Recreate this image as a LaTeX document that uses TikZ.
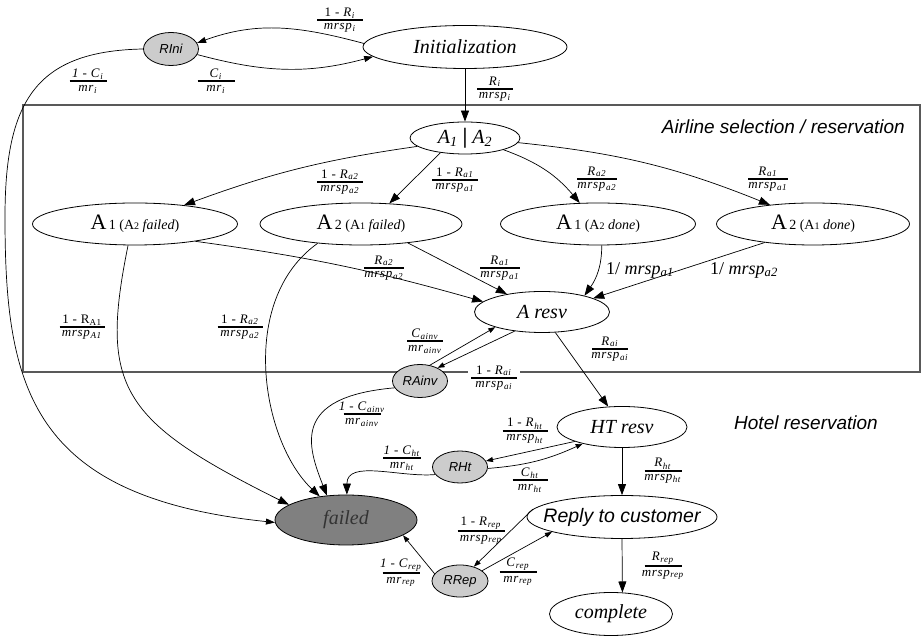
\documentclass[tikz,border=0pt]{standalone}
\usepackage{fontspec}
\setmainfont{Liberation Serif}
\setsansfont{Liberation Sans}
\newfontfamily\labfont[LetterSpace=5]{Liberation Serif}
\usetikzlibrary{arrows.meta,shapes.geometric}

\newcommand\lsb[1]{\textsubscript{\textit{#1}}}
\newcommand\frlab[3][38pt]{\vbox{\hbox to #1{\hss#2\hss}\kern1pt\hrule height 2pt\kern2.5pt\hbox to #1{\hss#3\hss}}}
\newcommand\anodetxt[3]{{\normalfont\fontsize{22}{22}\selectfont A}{\normalfont\fontsize{14}{14}\selectfont\,#1 (A{\fontsize{10}{10}\selectfont #2} \textit{#3})}}

\begin{document}
\begin{tikzpicture}[x=1pt,y=1pt,
  every node/.style={inner sep=0pt},
  st/.style={draw, ellipse, line width=0.8pt, font=\fontsize{20}{20}\selectfont\itshape},
  rn/.style={draw, ellipse, fill=black!20, line width=0.8pt, minimum width=55pt, minimum height=33pt, font=\sffamily\itshape\fontsize{13}{13}\selectfont},
  lab/.style={font=\labfont\fontsize{13}{14}\selectfont},
  bigl/.style={font=\fontsize{18}{18}\selectfont},
  sect/.style={font=\sffamily\itshape\fontsize{19}{19}\selectfont},
  barr/.style={-{Triangle[length=11pt,width=8pt]}, line width=0.7pt},
  marr/.style={-{Triangle[length=9pt,width=6pt]}, line width=0.7pt},
  sarr/.style={-{Triangle[length=7pt,width=5pt]}, line width=0.7pt}
]
\useasboundingbox (0,0) rectangle (924,637);

% section box
\draw[line width=1.3pt, black!65] (23,265) rectangle (920,532);
\node[sect, anchor=east] (alab) at (905,510) {Airline selection / reservation};
\node[sect] (hlab) at (806,214) {Hotel reservation};

% nodes
\node[rn] (rini) at (171,588) {RIni};
\node[st, minimum width=204pt, minimum height=43pt] (init) at (465,590) {Initialization};
\node[st, minimum width=110pt, minimum height=32pt] (a12) at (465,499) {A\textsubscript{1} {\upshape\bfseries\fontsize{22}{22}\selectfont |} A\textsubscript{2}};
\node[st, minimum width=205pt, minimum height=42pt] (a1f) at (135,413) {\anodetxt{1}{2}{failed}};
\node[st, minimum width=202pt, minimum height=42pt] (a2f) at (361,413) {\anodetxt{2}{1}{failed}};
\node[st, minimum width=195pt, minimum height=42pt] (a1d) at (598,413) {\anodetxt{1}{2}{done}};
\node[st, minimum width=193pt, minimum height=42pt] (a2d) at (813,413) {\anodetxt{2}{1}{done}};
\node[st, minimum width=135pt, minimum height=41pt] (aresv) at (542,325) {A resv};
\node[rn] (rainv) at (420,256) {RAinv};
\node[st, minimum width=130pt, minimum height=41pt] (ht) at (622,210) {HT resv};
\node[rn, minimum height=32pt] (rht) at (460,170) {RHt};
\node[st, fill=black!50, text=black!80, minimum width=142pt, minimum height=50pt] (failed) at (346,117) {failed};
\node[st, minimum width=190pt, minimum height=43pt, inner xsep=-13pt, font=\sffamily\itshape\fontsize{19.5}{19.5}\selectfont] (reply) at (622,120) {Reply to customer};
\node[rn, minimum width=56pt, minimum height=32pt] (rrep) at (460,56) {RRep};
\node[st, minimum width=123pt, minimum height=43pt] (complete) at (611,23) {complete};

% edges
\draw[marr] (init.178) to[out=165,in=20] (rini.13);
\draw[marr] (rini.-12) to[out=-15,in=195] (init.186);
\draw[barr] (init.south) -- (a12.north);
\draw[marr] (rini.west) .. controls (35,586) and (5,535) .. (5,420) .. controls (5,250) and (30,140) .. (failed.182);

\draw[barr] (a12.190) to[bend right=6] (a1f.21);
\draw[barr] (a12.211) -- (a2f.36);
\draw[barr] (a12.-17) to[bend left=15] (a1d.131);
\draw[barr] (a12.-5) to[bend left=8] (a2d.156);

\draw[barr] (a1f.-16) to[bend left=4] (aresv.170);
\draw[barr] (a2f.-22) -- (aresv.153);
\draw[barr] (a1d.-80) to[out=-90,in=55] (aresv.21);
\draw[barr] (a2d.201) -- (aresv.15);

\draw[barr] (a1f.252) .. controls (99,249) and (121,216) .. (failed.165);
\draw[barr] (a2f.204) .. controls (237,336) and (262,195) .. (failed.138);

\draw[sarr] (aresv.215) -- (rainv.37);
\draw[sarr] (rainv.58) -- (aresv.198);
\draw[barr] (rainv.195) .. controls (290,240) and (308,190) .. (failed.128);

\draw[barr] (aresv.-57) -- (ht.124);
\draw[sarr] (ht.197) -- (rht.13);
\draw[sarr] (rht.-3) to[bend right=10] (ht.203);
\draw[barr] (rht.197) to[out=185,in=90] (failed.88);

\draw[barr] (ht.south) -- (reply.north);
\draw[sarr] (reply.175) -- (rrep.46);
\draw[sarr] (rrep.25) -- (reply.192);
\draw[sarr] (rrep.164) -- (failed.-15);
\draw[barr] (reply.south) -- (complete.62.5);

% labels
\node[lab] (l1) at (340,617) {\frlab[46pt]{1 - \textit{R}\lsb{i}}{\textit{mrsp}\lsb{i}}};
\node[lab] (l2) at (216,556) {\frlab[37pt]{\textit{C}\lsb{i}}{\textit{mr}\lsb{i}}};
\node[lab] (l3) at (495,548) {\frlab[36pt]{\textit{R}\lsb{i}}{\textit{mrsp}\lsb{i}}};
\node[lab] (l4) at (88,556) {\frlab[37pt]{\textit{1 - C}\lsb{i}}{\textit{mr}\lsb{i}}};
\node[lab] (l5) at (340,455) {\frlab[46pt]{1 - \textit{R}\lsb{a2}}{\textit{mrsp}\lsb{a2}}};
\node[lab] (l6) at (455,457) {\frlab[46pt]{1 - \textit{R}\lsb{a1}}{\textit{mrsp}\lsb{a1}}};
\node[lab] (l7) at (597,458) {\frlab[40pt]{\textit{R}\lsb{a2}}{\textit{mrsp}\lsb{a2}}};
\node[lab] (l8) at (768,458) {\frlab[40pt]{\textit{R}\lsb{a1}}{\textit{mrsp}\lsb{a1}}};
\node[lab] (l9) at (384,369) {\frlab[40pt]{\textit{R}\lsb{a2}}{\textit{mrsp}\lsb{a2}}};
\node[lab] (l10) at (500,369) {\frlab[40pt]{\textit{R}\lsb{a1}}{\textit{mrsp}\lsb{a1}}};
\node[bigl] (l11) at (640,367) {1/ \textit{mrsp}\lsb{a1}};
\node[bigl] (l12) at (744,367) {1/ \textit{mrsp}\lsb{a2}};
\node[lab, fill=white, inner xsep=3pt, inner ysep=1pt] (l13) at (494,259) {\frlab[46pt]{1 - \textit{R}\lsb{ai}}{\textit{mrsp}\lsb{ai}}};
\node[lab] (l14) at (425,296) {\frlab[36pt]{\textit{C}\lsb{ainv}}{\textit{mr}\lsb{ainv}}};
\node[lab] (l15) at (362,223) {\frlab[37pt]{\textit{1 - C}\lsb{ainv}}{\textit{mr}\lsb{ainv}}};
\node[lab] (l16) at (610,288) {\frlab[36pt]{\textit{R}\lsb{ai}}{\textit{mrsp}\lsb{ai}}};
\node[lab] (l17) at (525,206) {\frlab[45pt]{1 - \textit{R}\lsb{ht}}{\textit{mrsp}\lsb{ht}}};
\node[lab] (l18) at (530,157) {\frlab[35pt]{\textit{C}\lsb{ht}}{\textit{mr}\lsb{ht}}};
\node[lab] (l19) at (402,179) {\frlab[38pt]{\textit{1 - C}\lsb{ht}}{\textit{mr}\lsb{ht}}};
\node[lab] (l20) at (663,166) {\frlab[37pt]{\textit{R}\lsb{ht}}{\textit{mrsp}\lsb{ht}}};
\node[lab] (l21) at (481,106) {\frlab[47pt]{1 - \textit{R}\lsb{rep}}{\textit{mrsp}\lsb{rep}}};
\node[lab] (l22) at (518,65) {\frlab[37pt]{\textit{C}\lsb{rep}}{\textit{mr}\lsb{rep}}};
\node[lab] (l23) at (401,64) {\frlab[37pt]{\textit{1 - C}\lsb{rep}}{\textit{mr}\lsb{rep}}};
\node[lab] (l24) at (663,71) {\frlab[37pt]{\textit{R}\lsb{rep}}{\textit{mrsp}\lsb{rep}}};
\node[lab] (l25) at (82,310) {\frlab[45pt]{1 - R\textsubscript{A1}}{\textit{mrsp}\lsb{A1}}};
\node[lab] (l26) at (240,310) {\frlab[45pt]{1 - \textit{R}\lsb{a2}}{\textit{mrsp}\lsb{a2}}};
\end{tikzpicture}
\end{document}
